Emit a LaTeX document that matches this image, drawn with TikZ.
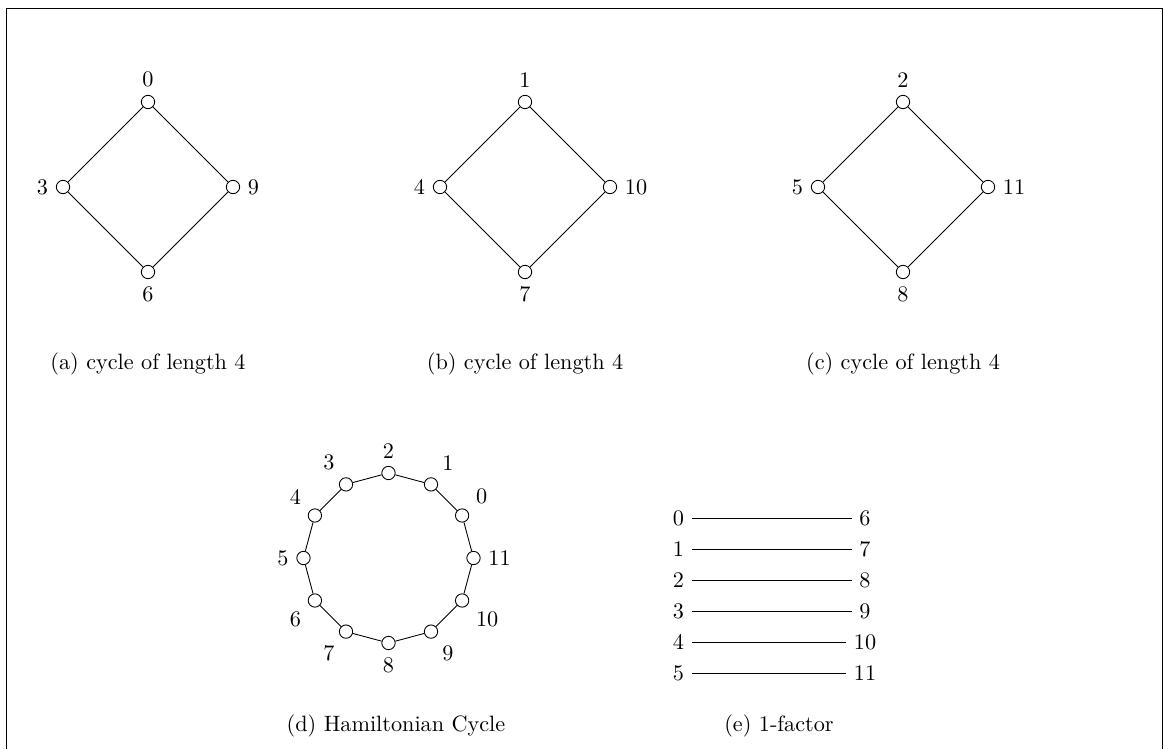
\documentclass[tikz,border=0pt]{standalone}
\begin{document}
\begin{tikzpicture}[x=0.45pt, y=0.45pt,
    vertex/.style={circle, draw, minimum size=6pt, inner sep=0pt},
    subcap/.style={anchor=base}]
  \useasboundingbox (0,0) rectangle (1164,749);
  % frame
  \draw (6,0) -- (6,741) -- (1162,741) -- (1162,0);
  % the three 4-cycles
  \foreach \cx/\vt/\vl/\vb/\vr/\sub in {148/0/3/6/9/a, 525/1/4/7/10/b, 903/2/5/8/11/c} {
    \node[vertex, label=above:\vt] (\sub-top) at (\cx,647) {};
    \node[vertex, label=left:\vl] (\sub-left) at (\cx-85,562) {};
    \node[vertex, label=below:\vb] (\sub-bot) at (\cx,477) {};
    \node[vertex, label=right:\vr] (\sub-right) at (\cx+85,562) {};
    \draw (\sub-top) -- (\sub-right) -- (\sub-bot) -- (\sub-left) -- (\sub-top);
    \node[subcap] (cap-\sub) at (\cx,379) {(\sub) cycle of length 4};
  }
  % Hamiltonian cycle
  \begin{scope}[shift={(388.5,191)}]
    \foreach \k in {0,...,11} {
      \pgfmathtruncatemacro\ang{30*(\k+1)}
      \node[vertex, label=\ang:\k] (h\k) at (\ang:85) {};
    }
    \foreach \k in {0,...,11} {
      \pgfmathtruncatemacro\nxt{mod(\k+1,12)}
      \draw (h\k) -- (h\nxt);
    }
  \end{scope}
  \node[subcap] (cap-d) at (396,18) {(d) Hamiltonian Cycle};
  % 1-factor
  \foreach \k in {0,...,5} {
    \pgfmathtruncatemacro\mate{\k+6}
    \node (f\k) at (678.3,{230.7-31*\k}) {\k};
    \node (g\k) at (865,{230.7-31*\k}) {\mate};
    \draw (f\k) -- (g\k);
  }
  \node[subcap] (cap-e) at (779,18) {(e) 1-factor};
\end{tikzpicture}
\end{document}
